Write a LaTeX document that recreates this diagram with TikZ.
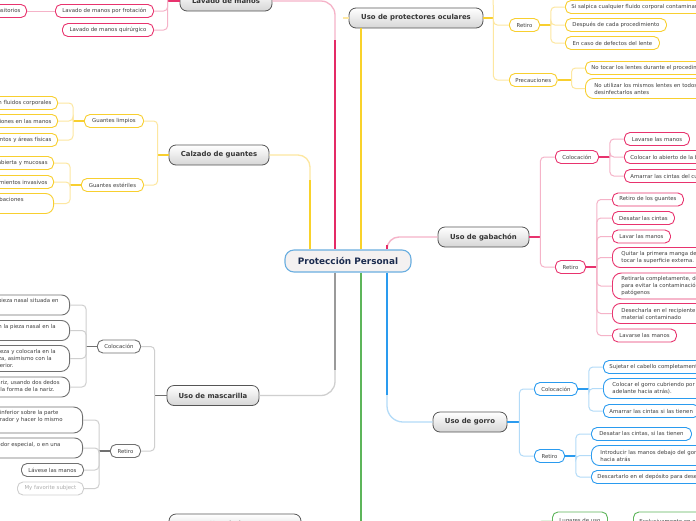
\documentclass[tikz,border=0pt]{standalone}
\usepackage{fontspec}
\setmainfont{DejaVu Sans}
\usetikzlibrary{calc}
\definecolor{pinkB}{HTML}{E8336E}
\definecolor{pinkM}{HTML}{E42A66}
\definecolor{pinkL}{HTML}{F5B3C8}
\definecolor{yelB}{HTML}{F8CF2F}
\definecolor{yelM}{HTML}{F9D22A}
\definecolor{yelL}{HTML}{FDE7A0}
\definecolor{bluB}{HTML}{2A9BEF}
\definecolor{bluL}{HTML}{B3DBF8}
\definecolor{gryB}{HTML}{707070}
\definecolor{gryM}{HTML}{9A9A9A}
\definecolor{gryL}{HTML}{CFCFCF}
\definecolor{grnB}{HTML}{5DB55A}
\definecolor{grnL}{HTML}{A9D9A4}
\definecolor{topicB}{HTML}{555555}
\definecolor{topicG}{HTML}{D6D6D6}
\definecolor{topicT}{HTML}{353535}
\definecolor{cenB}{HTML}{6AAEE0}
\definecolor{cenF}{HTML}{F4F1F1}
\definecolor{cenT}{HTML}{1B2B4F}
\definecolor{txtc}{HTML}{404040}
\definecolor{favT}{HTML}{ADADAD}
\newcommand\leaffont{\fontsize{5.4}{7}\selectfont}
\newcommand\topicfont{\fontsize{6.9}{8}\selectfont\bfseries}
\newcommand\hpad[1]{\makebox[#1pt]{}}
\tikzset{
  leaf/.style={fill=white, rounded corners=5.5pt, line width=0.9pt, font=\leaffont, text=txtc, inner xsep=6pt, inner ysep=1pt, minimum height=13pt},
  lP/.style={leaf, draw=pinkB}, lY/.style={leaf, draw=yelB}, lB/.style={leaf, draw=bluB},
  lK/.style={leaf, draw=gryB}, lG/.style={leaf, draw=grnB},
  two/.style={minimum height=20pt, rounded corners=8pt, inner xsep=9pt, align=left},
  three/.style={minimum height=26pt, rounded corners=9pt, inner xsep=9pt, align=left},
  lcut/.style={anchor=east, align=right, inner xsep=4pt},
  topic/.style={draw=topicB, rounded corners=7pt, line width=0.8pt, top color=white, bottom color=topicG, font=\topicfont, text=topicT, minimum height=20pt, inner sep=0pt},
  cen/.style={draw=cenB, fill=cenF, line width=1.1pt, rounded corners=9pt, minimum width=126pt, minimum height=22pt, font=\fontsize{8.9}{10}\selectfont\bfseries, text=cenT},
  cP/.style={draw=pinkL, line width=1pt, rounded corners=4pt}, sP/.style={draw=pinkB, line width=1.4pt},
  cY/.style={draw=yelL, line width=1pt, rounded corners=4pt}, sY/.style={draw=yelB, line width=1.4pt},
  cB/.style={draw=bluL, line width=1pt, rounded corners=4pt}, sB/.style={draw=bluB, line width=1.4pt},
  cK/.style={draw=gryL, line width=1pt, rounded corners=4pt}, sK/.style={draw=gryB, line width=1.4pt},
  cG/.style={draw=grnL, line width=1pt, rounded corners=4pt}, sG/.style={draw=grnB, line width=1.4pt},
}
\begin{document}
\begin{tikzpicture}[x=1pt,y=-1pt]
\useasboundingbox (0,0) rectangle (696,520);
\clip (0,0) rectangle (696,520);
\fill[white] (0,0) rectangle (696,520);

% central
\node[cen] (cen) at (348,261) {Protección Personal};

% Lavado de manos
\node[topic, minimum width=92pt] (lav) at (226,1) {Lavado de manos};
\node[lP, anchor=west, minimum width=98pt] (lav1) at (55,11) {Lavado de manos por frotación};
\node[lP, anchor=west, minimum width=91pt] (lav2) at (62,30) {Lavado de manos quirúrgico};
\node[lP, lcut, inner xsep=6pt] (lav11) at (27,11) {Eliminar microorganismos transitorios};

% Calzado de guantes
\node[topic, minimum width=100pt] (calz) at (219,155) {Calzado de guantes};
\node[lY, anchor=west, minimum width=59pt] (gl) at (84,121) {Guantes limpios};
\node[lY, anchor=west, minimum width=62pt] (ge) at (81,185) {Guantes estériles};
\node[lY, lcut, inner xsep=6pt] (gl1) at (58,103) {Contacto con fluidos corporales};
\node[lY, lcut, inner xsep=6pt] (gl2) at (58,121) {Presencia de lesiones en las manos};
\node[lY, lcut, inner xsep=6pt] (gl3) at (58,140) {Limpieza de instrumentos y áreas físicas};
\node[lY, lcut, inner xsep=6pt] (ge1) at (54,163) {Contacto con piel no intacta, herida abierta y mucosas};
\node[lY, lcut, inner xsep=6pt] (ge2) at (54,182) {Procedimientos invasivos};
\node[lY, two, lcut] (ge3) at (54,203.5) {Colocación de sondas e intubaciones\hpad{26}\\y catéteres\hpad{80}};

% Uso de protectores oculares
\node[topic, minimum width=134pt] (ocu) at (416,18) {Uso de protectores oculares};
\node[lY, anchor=west, minimum width=30pt] (ocuR) at (509,25) {Retiro};
\node[lY, anchor=west, minimum width=47pt] (ocuP) at (509,80) {Precauciones};
\node[lY, anchor=west] (ocuR1) at (565,7) {Si salpica cualquier fluido corporal contaminante};
\node[lY, anchor=west, minimum width=101pt] (ocuR2) at (565,25) {Después de cada procedimiento};
\node[lY, anchor=west, minimum width=94pt] (ocuR3) at (565,43) {En caso de defectos del lente};
\node[lY, anchor=west] (ocuP1) at (585,68) {No tocar los lentes durante el procedimiento};
\node[lY, two, anchor=west] (ocuP2) at (585,88.5) {No utilizar los mismos lentes en todos los pacientes sin\\desinfectarlos antes};

% Uso de gabachon
\node[topic, minimum width=91pt] (gab) at (483.5,237) {Uso de gabachón};
\node[lP, anchor=west, minimum width=43pt] (gabC) at (555,157) {Colocación};
\node[lP, anchor=west, minimum width=30pt] (gabR) at (555,267) {Retiro};
\node[lP, anchor=west, minimum width=65pt] (gabC1) at (624,139) {Lavarse las manos};
\node[lP, anchor=west] (gabC2) at (624,157) {Colocar lo abierto de la bata hacia atrás};
\node[lP, anchor=west] (gabC3) at (624,176) {Amarrar las cintas del cuello};
\node[lP, anchor=west, minimum width=71pt] (gabR1) at (612,199.5) {Retiro de los guantes};
\node[lP, anchor=west, minimum width=62pt] (gabR2) at (612,218) {Desatar las cintas};
\node[lP, anchor=west, minimum width=58pt] (gabR3) at (612,236.5) {Lavar las manos};
\node[lP, two, anchor=west] (gabR4) at (612,257.5) {Quitar la primera manga del gabachón sin\\tocar la superficie externa.};
\node[lP, three, anchor=west] (gabR5) at (612,286) {Retirarla completamente, doblándola hacia adentro\\para evitar la contaminación de\\patógenos};
\node[lP, two, anchor=west] (gabR6) at (612,313.5) {Desecharla en el recipiente destinado para\\material contaminado};
\node[lP, anchor=west, minimum width=64pt] (gabR7) at (612,335.5) {Lavarse las manos};

% Uso de mascarilla
\node[topic, minimum width=92pt] (mas) at (213,395.5) {Uso de mascarilla};
\node[lK, anchor=west, minimum width=43pt] (masC) at (97,346.5) {Colocación};
\node[lK, anchor=west, minimum width=30pt] (masR) at (110,451) {Retiro};
\node[lK, two, lcut] (masC1) at (70,305) {Sostener el respirador en la mano con la pieza nasal situada en\hpad{7}\\la punta de los dedos\hpad{80}};
\node[lK, two, lcut] (masC2) at (70,330.5) {Colocar el respirador debajo del mentón con la pieza nasal en la\hpad{10}\\parte superior\hpad{80}};
\node[lK, three, lcut] (masC3) at (70,358.5) {Tirar de la correa superior sobre la cabeza y colocarla en la\hpad{10}\\parte posterior de la cabeza, asimismo con  la\hpad{14}\\correa inferior.\hpad{52}};
\node[lK, two, lcut] (masC4) at (70,387) {Ajustar la pieza nasal a la forma de la nariz, usando dos dedos\hpad{6}\\de cada mano para adaptarla a la forma de la nariz.\hpad{11}};
\node[lK, three, lcut] (masR1) at (83,420) {Tomar la correa inferior sobre la parte\hpad{20}\\posterior de la cabeza, retirar el respirador y hacer lo mismo\hpad{16}\\con la correa superior\hpad{90}};
\node[lK, two, lcut] (masR2) at (83,448) {Desechar el respirador en un contenedor especial, o en una\hpad{18}\\bolsa\hpad{90}};
\node[lK, anchor=west, minimum width=62pt] (masR3) at (21,470) {Lávese las manos};
\node[leaf, draw=gryL, text=favT, anchor=west, minimum width=66pt] (masR4) at (17,488.5) {My favorite subject};

% Uso de gorro
\node[topic, minimum width=74pt] (gor) at (470,422) {Uso de gorro};
\node[lB, anchor=west, minimum width=43pt] (gorC) at (534,389) {Colocación};
\node[lB, anchor=west, minimum width=30pt] (gorR) at (534,456) {Retiro};
\node[lB, anchor=west] (gorC1) at (603,367) {Sujetar el cabello completamente};
\node[lB, two, anchor=west] (gorC2) at (603,388.5) {Colocar el gorro cubriendo por completo el cabello (de\\adelante hacia atrás).};
\node[lB, anchor=west] (gorC3) at (603,411) {Amarrar las cintas si las tienen};
\node[lB, anchor=west, minimum width=100pt] (gorR1) at (591,434) {Desatar las cintas, si las tienen};
\node[lB, two, anchor=west] (gorR2) at (591,455.5) {Introducir las manos debajo del gorro y retirarlo\\hacia atrás};
\node[lB, anchor=west] (gorR3) at (591,477) {Descartarlo en el depósito para desechos};

% bottom nodes
\node[lG, anchor=west, minimum width=55pt, minimum height=18pt] (lug) at (552,521) {Lugares de uso};
\node[lG, anchor=west, minimum height=18pt] (exc) at (633,521) {Exclusivamente en el área de aislamiento};
\node[topic, minimum width=132pt] (bot) at (235,524) {Uso de botas};

% trunk coordinates
\coordinate (tLav) at ($(cen.north)+(-13,0)$);
\coordinate (tCal) at ($(cen.north)+(-38,0)$);
\coordinate (tOcu) at ($(cen.north)+(13,0)$);
\coordinate (tGab) at ($(cen.north)+(39,0)$);
\coordinate (bMas) at ($(cen.south)+(-13,0)$);
\coordinate (bGrn) at ($(cen.south)+(13,0)$);
\coordinate (bGor) at ($(cen.south)+(39,0)$);
\coordinate (mLav) at (335,40);
\coordinate (mCal) at (310,180);
\coordinate (mMas) at (335,370);
\coordinate (mGor) at (387,395);
\coordinate (grnEnd) at (361,540);
\coordinate (lavUp) at (168,-15);
\coordinate (ocuUp) at (493,-15);
\coordinate (ocuStub) at (343,18);
\coordinate (gSp) at (538,540);

% trunks
\draw[pinkL, line width=1.3pt, rounded corners=14pt] (lav.east) -| (mLav);
\draw[pinkM, line width=2.2pt] (mLav) -- (tLav);
\draw[yelL, line width=1.3pt, rounded corners=12pt] (calz.east) -| (mCal);
\draw[yelM, line width=2.2pt] (mCal) -- (tCal);
\draw[yelM, line width=2.2pt] (tOcu) -- (tOcu |- ocu.south);
\draw[yelL, line width=1.2pt] (ocu.west) -- (ocuStub);
\draw[pinkL, line width=1.4pt, rounded corners=12pt] (tGab) |- (gab.west);
\draw[pinkM, line width=2.2pt] (tGab) -- ++(0,-4);
\draw[gryM, line width=2.2pt] (bMas) -- (mMas);
\draw[gryL, line width=1.3pt, rounded corners=14pt] (mMas) |- (mas.east);
\draw[grnB, line width=2.2pt] (bGrn) -- (grnEnd);
\draw[bluB, line width=2.2pt] (bGor) -- (mGor);
\draw[bluL, line width=1.3pt, rounded corners=16pt] (mGor) |- (gor.west);

% Lavado branches
\draw[sP] (lav.west) -- ++(-12,0);
\draw[cP] (lav.west) ++(-12,0) -- (lavUp);
\foreach \c in {lav1,lav2} \draw[cP] (lav.west) ++(-12,0) |- (\c.east);
\draw[cP] (lav1.west) -- (lav11.east);

% Calzado branches
\draw[sY] (calz.west) -- ++(-11,0);
\foreach \c in {gl,ge} \draw[cY] (calz.west) ++(-11,0) |- (\c.east);
\draw[sY] (gl.west) -- ++(-11,0);
\foreach \c in {gl1,gl2,gl3} \draw[cY] (gl.west) ++(-11,0) |- (\c.east);
\draw[sY] (ge.west) -- ++(-11,0);
\foreach \c in {ge1,ge2,ge3} \draw[cY] (ge.west) ++(-11,0) |- (\c.east);

% Oculares branches
\draw[sY] (ocu.east) -- ++(10,0);
\draw[cY] (ocu.east) ++(10,0) -- (ocuUp);
\foreach \c in {ocuR,ocuP} \draw[cY] (ocu.east) ++(10,0) |- (\c.west);
\draw[sY] (ocuR.east) -- ++(11,0);
\foreach \c in {ocuR1,ocuR2,ocuR3} \draw[cY] (ocuR.east) ++(11,0) |- (\c.west);
\draw[sY] (ocuP.east) -- ++(14,0);
\foreach \c in {ocuP1,ocuP2} \draw[cY] (ocuP.east) ++(14,0) |- (\c.west);

% Gabachon branches
\draw[sP] (gab.east) -- ++(11,0);
\foreach \c in {gabC,gabR} \draw[cP] (gab.east) ++(11,0) |- (\c.west);
\draw[sP] (gabC.east) -- ++(11,0);
\foreach \c in {gabC1,gabC2,gabC3} \draw[cP] (gabC.east) ++(11,0) |- (\c.west);
\draw[sP] (gabR.east) -- ++(11,0);
\foreach \c in {gabR1,gabR2,gabR3,gabR4,gabR5,gabR6,gabR7} \draw[cP] (gabR.east) ++(11,0) |- (\c.west);

% Mascarilla branches
\draw[sK] (mas.west) -- ++(-12,0);
\foreach \c in {masC,masR} \draw[cK] (mas.west) ++(-12,0) |- (\c.east);
\draw[sK] (masC.west) -- ++(-11,0);
\foreach \c in {masC1,masC2,masC3,masC4} \draw[cK] (masC.west) ++(-11,0) |- (\c.east);
\draw[sK] (masR.west) -- ++(-11,0);
\foreach \c in {masR1,masR2,masR3,masR4} \draw[cK] (masR.west) ++(-11,0) |- (\c.east);

% Gorro branches
\draw[sB] (gor.east) -- ++(12,0);
\foreach \c in {gorC,gorR} \draw[cB] (gor.east) ++(12,0) |- (\c.west);
\draw[sB] (gorC.east) -- ++(11,0);
\foreach \c in {gorC1,gorC2,gorC3} \draw[cB] (gorC.east) ++(11,0) |- (\c.west);
\draw[sB] (gorR.east) -- ++(11,0);
\foreach \c in {gorR1,gorR2,gorR3} \draw[cB] (gorR.east) ++(11,0) |- (\c.west);

% green bottom
\draw[cG] (gSp) |- (lug.west);
\draw[cG] (lug.east) -- (exc.west);
\end{tikzpicture}
\end{document}
